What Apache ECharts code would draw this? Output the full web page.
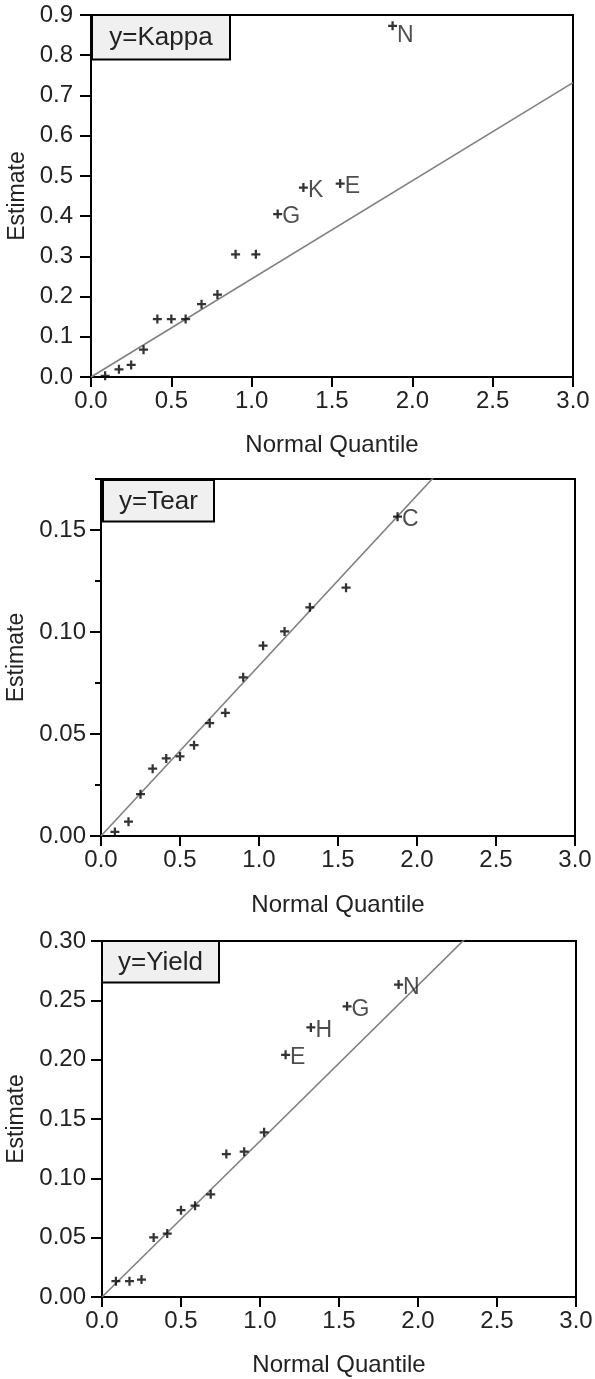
<!DOCTYPE html>
<html><head><meta charset="utf-8">
<script src="https://cdn.jsdelivr.net/npm/echarts@6/dist/echarts.min.js"></script>
<style>html,body{margin:0;padding:0;background:#fff}#c{width:595px;height:1379px}</style>
</head><body><div id="c"></div>
<script>
// ---- data ----
const quantiles = [0.088, 0.174, 0.250, 0.327, 0.413, 0.500, 0.589, 0.688, 0.787, 0.900, 1.026, 1.162, 1.322, 1.551, 1.877];
const kappa = [0.003, 0.019, 0.030, 0.068, 0.144, 0.144, 0.144, 0.181, 0.205, 0.305, 0.305, 0.405, 0.471, 0.481, 0.873];
const kappaLabels = ['', '', '', '', '', '', '', '', '', '', '', 'G', 'K', 'E', 'N'];
const tear = [0.002, 0.007, 0.0205, 0.033, 0.038, 0.039, 0.0445, 0.0553, 0.0604, 0.0778, 0.0933, 0.1003, 0.1121, 0.1217, 0.1565];
const tearLabels = ['', '', '', '', '', '', '', '', '', '', '', '', '', '', 'C'];
const yieldVals = [0.0133, 0.0133, 0.0147, 0.0502, 0.0535, 0.0732, 0.0769, 0.0865, 0.1205, 0.1225, 0.1388, 0.2041, 0.2272, 0.2450, 0.2633];
const yieldLabels = ['', '', '', '', '', '', '', '', '', '', '', 'E', 'H', 'G', 'N'];
const kappaLine = [[0, 0], [3, 0.732]];
const tearLine = [[0, 0], [3, 0.2505]];
const yieldLine = [[0, 0], [3, 0.394]];
const xTicks = [0, 0.5, 1.0, 1.5, 2.0, 2.5, 3.0];
const kappaTicks = [0, 0.1, 0.2, 0.3, 0.4, 0.5, 0.6, 0.7, 0.8, 0.9];
const tearTicks = [0, 0.05, 0.10, 0.15];
const tearMinorTicks = [0, 0.025, 0.05, 0.075, 0.10, 0.125, 0.15, 0.175];
const yieldTicks = [0, 0.05, 0.10, 0.15, 0.20, 0.25, 0.30];
const panelTitles = ['y=Kappa', 'y=Tear', 'y=Yield'];
const xTitle = 'Normal Quantile';
const yTitle = 'Estimate';

// ---- layout / style ----
const FONT = "'Liberation Sans', Arial, sans-serif";
const TXT = '#222';
const panels = [
  { y: kappa, labels: kappaLabels, line: kappaLine, ticks: kappaTicks, yMax: 0.9, dec: 1,
    grid: { left: 91, top: 15, width: 482, height: 362 }, box: [92, 15, 138, 44.5], yGap: 60, xGap: 56, yMargin: 18 },
  { y: tear, labels: tearLabels, line: tearLine, ticks: tearTicks, minor: tearMinorTicks, yMax: 0.175, dec: 2,
    grid: { left: 101, top: 479, width: 474, height: 357 }, box: [103, 480, 111, 41.5], yGap: 73, xGap: 57, yMargin: 15 },
  { y: yieldVals, labels: yieldLabels, line: yieldLine, ticks: yieldTicks, yMax: 0.30, dec: 2,
    grid: { left: 102, top: 941, width: 474, height: 356 }, box: [102, 941, 117, 41.5], yGap: 74, xGap: 56, yMargin: 16 }
];

const plus = 'path://M3,0H5V3H8V5H5V8H3V5H0V3H3Z';
const grids = [], xAxes = [], yAxes = [], series = [], graphics = [];

panels.forEach((p, i) => {
  grids.push(Object.assign({ show: true, borderColor: '#000', borderWidth: 2, backgroundColor: 'transparent',
    containLabel: false, outerBoundsMode: 'none' }, p.grid));
  xAxes.push({
    type: 'value', gridIndex: i, min: 0, max: 3, interval: 0.5,
    name: xTitle, nameLocation: 'middle', nameGap: p.xGap,
    nameTextStyle: { fontFamily: FONT, fontSize: 24, color: TXT },
    axisLine: { show: true, onZero: false, lineStyle: { color: '#000', width: 2 } },
    axisTick: { show: true, inside: false, length: 10, lineStyle: { color: '#000', width: 2 }, customValues: xTicks },
    axisLabel: { fontFamily: FONT, fontSize: 24, color: TXT, margin: 12, customValues: xTicks,
      formatter: v => v.toFixed(1) },
    splitLine: { show: false }
  });
  const yIdx = yAxes.length;
  yAxes.push({
    type: 'value', gridIndex: i, min: 0, max: p.yMax, interval: 0.05,
    name: yTitle, nameLocation: 'middle', nameGap: p.yGap,
    nameTextStyle: { fontFamily: FONT, fontSize: 23, color: TXT },
    axisLine: { show: true, onZero: false, lineStyle: { color: '#000', width: 2 } },
    axisTick: { show: true, inside: false, length: 11, lineStyle: { color: '#000', width: 2 }, customValues: p.ticks },
    axisLabel: { fontFamily: FONT, fontSize: 24, color: TXT, margin: p.yMargin, customValues: p.ticks,
      formatter: v => v.toFixed(p.dec) },
    splitLine: { show: false }
  });
  if (p.minor) {
    yAxes.push({
      type: 'value', gridIndex: i, min: 0, max: p.yMax, position: 'left',
      axisLine: { show: false },
      axisTick: { show: true, inside: false, length: 6, lineStyle: { color: '#000', width: 2 }, customValues: p.minor },
      axisLabel: { show: false }, splitLine: { show: false }
    });
  }
  series.push({
    type: 'line', xAxisIndex: i, yAxisIndex: yIdx, data: p.line, symbol: 'none', clip: true,
    lineStyle: { color: '#808080', width: 1.6 }, silent: true, z: 2
  });
  series.push({
    type: 'scatter', xAxisIndex: i, yAxisIndex: yIdx,
    data: quantiles.map((q, k) => {
      const d = { value: [q, p.y[k]], name: p.labels[k] };
      if (i === 0 && p.labels[k] === 'N') d.label = { offset: [0, 10] };
      return d;
    }),
    symbol: plus, symbolSize: 9, symbolKeepAspect: true,
    itemStyle: { color: '#000' },
    label: { show: true, position: 'right', distance: 0, offset: [0, 3], formatter: '{b}',
      fontFamily: FONT, fontSize: 23, color: TXT },
    z: 3
  });
  const b = p.box;
  graphics.push({
    type: 'group', z: 100,
    children: [
      { type: 'rect', shape: { x: b[0], y: b[1], width: b[2], height: b[3] },
        style: { fill: '#f0f0f0', stroke: '#000', lineWidth: 2 } },
      { type: 'text', x: b[0] + b[2] / 2, y: b[1] + b[3] / 2 + 1,
        style: { text: panelTitles[i], fontFamily: FONT, fontSize: 26, fill: TXT, align: 'center', verticalAlign: 'middle' } }
    ]
  });
});

const chart = echarts.init(document.getElementById('c'), null, { renderer: 'canvas' });
chart.setOption({
  animation: false,
  backgroundColor: '#fff',
  grid: grids, xAxis: xAxes, yAxis: yAxes, series: series, graphic: graphics
});
</script>
</body></html>
